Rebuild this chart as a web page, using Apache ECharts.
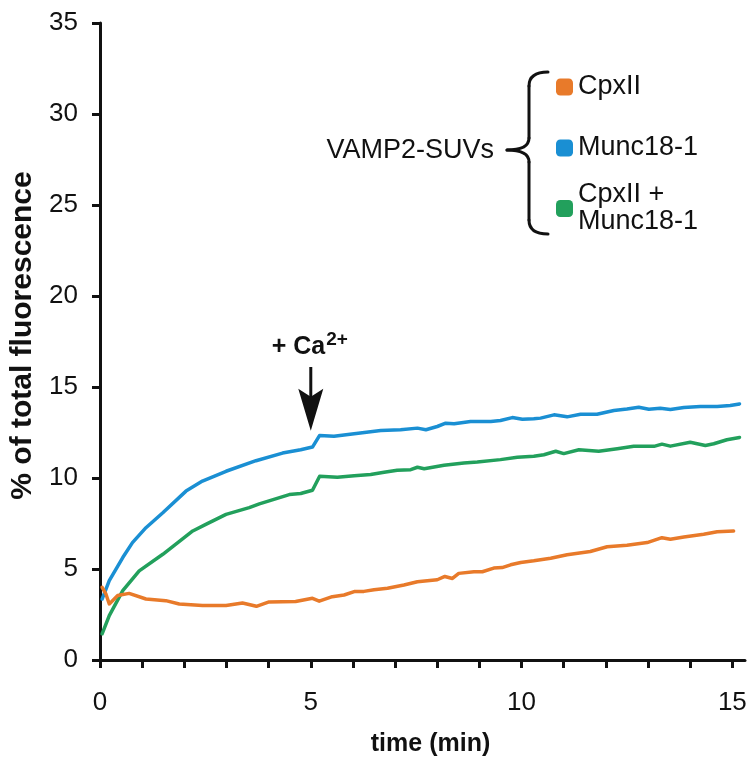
<!DOCTYPE html>
<html>
<head>
<meta charset="utf-8">
<script src="https://cdn.jsdelivr.net/npm/echarts@6/dist/echarts.min.js"></script>
<style>
  html, body { margin: 0; padding: 0; background: #fff; }
  #chart { width: 752px; height: 762px; }
</style>
</head>
<body>
<div id="chart"></div>
<script>
// Lipid-mixing kinetics: VAMP2-SUVs with CpxII, Munc18-1, or both; Ca2+ added at 5 min.
const seriesNames = ['CpxII', 'Munc18-1', 'CpxII + Munc18-1'];
const seriesColors = ['#E87A2A', '#1A8FD3', '#22A05C'];

const cpxTime = [0.05, 0.14, 0.22, 0.42, 0.69, 1.09, 1.56, 1.88, 2.43, 2.99, 3.38, 3.71, 4.01, 4.64, 5.04, 5.2, 5.51, 5.79, 6.03, 6.26, 6.5, 6.82, 7.21, 7.53, 8.0, 8.18, 8.36, 8.51, 8.87, 9.07, 9.34, 9.54, 9.74, 9.98, 10.29, 10.69, 11.08, 11.63, 12.03, 12.5, 12.98, 13.33, 13.53, 13.85, 14.32, 14.64, 15.03];
const cpxValues = [3.99, 3.63, 3.08, 3.54, 3.66, 3.35, 3.26, 3.08, 2.99, 2.99, 3.13, 2.95, 3.19, 3.21, 3.39, 3.23, 3.48, 3.57, 3.76, 3.77, 3.86, 3.94, 4.12, 4.3, 4.41, 4.59, 4.48, 4.76, 4.85, 4.85, 5.05, 5.08, 5.23, 5.36, 5.45, 5.59, 5.78, 5.96, 6.22, 6.31, 6.45, 6.72, 6.63, 6.76, 6.91, 7.05, 7.09];

const muncTime = [0.05, 0.22, 0.54, 0.77, 1.09, 1.49, 2.04, 2.43, 2.99, 3.7, 4.33, 4.76, 5.04, 5.21, 5.55, 6.03, 6.66, 7.13, 7.53, 7.73, 8.0, 8.2, 8.4, 8.79, 9.27, 9.5, 9.78, 10.02, 10.29, 10.45, 10.77, 11.08, 11.4, 11.79, 12.19, 12.5, 12.78, 13.02, 13.29, 13.53, 13.85, 14.24, 14.64, 14.95, 15.17];
const muncValues = [3.35, 4.36, 5.63, 6.45, 7.27, 8.09, 9.28, 9.83, 10.37, 10.95, 11.37, 11.55, 11.7, 12.34, 12.29, 12.43, 12.61, 12.65, 12.74, 12.65, 12.83, 13.01, 12.98, 13.1, 13.1, 13.16, 13.32, 13.23, 13.25, 13.29, 13.47, 13.36, 13.5, 13.5, 13.71, 13.79, 13.89, 13.78, 13.83, 13.76, 13.87, 13.93, 13.93, 13.98, 14.07];

const bothTime = [0.05, 0.22, 0.54, 0.93, 1.49, 2.2, 2.51, 2.99, 3.54, 3.78, 4.49, 4.76, 5.04, 5.21, 5.63, 6.03, 6.42, 6.74, 7.05, 7.37, 7.53, 7.69, 8.16, 8.63, 8.95, 9.5, 9.9, 10.29, 10.53, 10.81, 11.0, 11.36, 11.83, 12.27, 12.66, 13.14, 13.33, 13.53, 14.0, 14.36, 14.56, 14.87, 15.17];
const bothValues = [1.44, 2.44, 3.81, 4.9, 5.81, 7.09, 7.45, 8.0, 8.37, 8.58, 9.09, 9.15, 9.33, 10.1, 10.04, 10.13, 10.19, 10.32, 10.43, 10.46, 10.59, 10.51, 10.7, 10.83, 10.88, 11.01, 11.14, 11.19, 11.28, 11.47, 11.34, 11.55, 11.47, 11.61, 11.74, 11.74, 11.86, 11.75, 11.96, 11.79, 11.88, 12.1, 12.23];

const xTickValues = [0, 1, 2, 3, 4, 5, 6, 7, 8, 9, 10, 11, 12, 13, 14, 15];
const xLabelValues = [0, 5, 10, 15];

// Ca2+ addition marker (time in min, arrow tip / tail in % fluorescence)
const caTime = 5;
const caArrowTip = 12.6;
const caArrowTail = 16.1;

const FONT = "'Liberation Sans', Arial, Helvetica, sans-serif";

function pairs(t, v) { return t.map((x, i) => [x, v[i]]); }

const chart = echarts.init(document.getElementById('chart'), null, { renderer: 'canvas' });

const lineSeries = [
  { name: seriesNames[1], data: pairs(muncTime, muncValues), color: seriesColors[1] },
  { name: seriesNames[2], data: pairs(bothTime, bothValues), color: seriesColors[2] },
  { name: seriesNames[0], data: pairs(cpxTime, cpxValues), color: seriesColors[0] }
].map(s => ({
  name: s.name,
  type: 'line',
  data: s.data,
  showSymbol: false,
  symbol: 'none',
  color: s.color,
  lineStyle: { color: s.color, width: 3.5, join: 'round', cap: 'round' },
  emphasis: { disabled: true }
}));

function legendAt(name, top) {
  return {
    data: [name],
    left: 556,
    top: top,
    orient: 'vertical',
    padding: 0,
    icon: 'roundRect',
    itemWidth: 17,
    itemHeight: 17,
    itemGap: 0,
    selectedMode: false,
    textStyle: { fontFamily: FONT, fontSize: 27, color: '#111', lineHeight: 27 },
    formatter: n => n === seriesNames[2] ? 'CpxII +\nMunc18-1' : n
  };
}

chart.setOption({
  animation: false,
  backgroundColor: '#fff',
  grid: { left: 99, right: 7, top: 23, bottom: 99, containLabel: false },
  legend: [
    legendAt(seriesNames[0], 73.5),
    legendAt(seriesNames[1], 134.5),
    legendAt(seriesNames[2], 181.5)
  ],
  xAxis: {
    type: 'value',
    min: 0,
    max: 15.3,
    name: 'time (min)',
    nameLocation: 'middle',
    nameGap: 72,
    nameTextStyle: { fontFamily: FONT, fontSize: 25, fontWeight: 'bold', color: '#111', padding: [0, 0, 0, 16] },
    axisLine: { onZero: false, lineStyle: { color: '#111', width: 3 } },
    axisTick: { show: true, inside: false, length: 8, customValues: xTickValues, lineStyle: { color: '#111', width: 3 } },
    axisLabel: { customValues: xLabelValues, margin: 30, fontFamily: FONT, fontSize: 26, color: '#111' },
    splitLine: { show: false }
  },
  yAxis: {
    type: 'value',
    min: 0,
    max: 35,
    interval: 5,
    name: '% of total fluorescence',
    nameLocation: 'middle',
    nameGap: 62,
    nameTextStyle: { fontFamily: FONT, fontSize: 30, fontWeight: 'bold', color: '#111', padding: [0, 0, 0, 12] },
    axisLine: { show: true, lineStyle: { color: '#111', width: 3 } },
    axisTick: { show: true, inside: false, length: 8, lineStyle: { color: '#111', width: 3 } },
    axisLabel: { margin: 22, fontFamily: FONT, fontSize: 26, color: '#111' },
    splitLine: { show: false }
  },
  series: lineSeries
});

// Annotations: "+ Ca2+" arrow anchored to data coordinates, and the VAMP2-SUVs brace.
const tip = chart.convertToPixel({ gridIndex: 0 }, [caTime, caArrowTip]);
const tail = chart.convertToPixel({ gridIndex: 0 }, [caTime, caArrowTail]);
const ax = tip[0];
const headLen = 42, headHalf = 12.5, notch = 8;

const braceStyle = { stroke: '#111', lineWidth: 3, fill: null, lineCap: 'round' };
const bx = 529, bTop = 72, bMid = 150, bBot = 234, bEnd = 548, bPoint = 507;

chart.setOption({
  graphic: [
    {
      type: 'line',
      shape: { x1: ax, y1: tail[1], x2: ax, y2: tip[1] - headLen + notch + 2 },
      style: { stroke: '#111', lineWidth: 3 }
    },
    {
      type: 'polygon',
      shape: { points: [
        [ax, tip[1]],
        [ax - headHalf, tip[1] - headLen],
        [ax, tip[1] - headLen + notch],
        [ax + headHalf, tip[1] - headLen]
      ] },
      style: { fill: '#111' }
    },
    {
      type: 'text',
      x: ax - 1,
      y: tail[1] - 7,
      style: {
        text: '{b|+ Ca}{s|2+}',
        align: 'center',
        verticalAlign: 'bottom',
        rich: {
          b: { fontFamily: FONT, fontSize: 25, fontWeight: 'bold', fill: '#111', verticalAlign: 'bottom', lineHeight: 30 },
          s: { fontFamily: FONT, fontSize: 19, fontWeight: 'bold', fill: '#111', verticalAlign: 'top', lineHeight: 30, padding: [0, 0, 12, 1] }
        }
      }
    },
    // curly brace grouping the three samples
    { type: 'bezierCurve', shape: { x1: bEnd, y1: bTop, cpx1: bx, cpy1: bTop, x2: bx, y2: bTop + 14 }, style: braceStyle },
    { type: 'line', shape: { x1: bx, y1: bTop + 14, x2: bx, y2: bMid - 12 }, style: braceStyle },
    { type: 'bezierCurve', shape: { x1: bx, y1: bMid - 12, cpx1: bx, cpy1: bMid, x2: bPoint, y2: bMid }, style: braceStyle },
    { type: 'bezierCurve', shape: { x1: bPoint, y1: bMid, cpx1: bx, cpy1: bMid, x2: bx, y2: bMid + 12 }, style: braceStyle },
    { type: 'line', shape: { x1: bx, y1: bMid + 12, x2: bx, y2: bBot - 14 }, style: braceStyle },
    { type: 'bezierCurve', shape: { x1: bx, y1: bBot - 14, cpx1: bx, cpy1: bBot, x2: bEnd, y2: bBot }, style: braceStyle },
    {
      type: 'text',
      x: 494,
      y: 151,
      style: { text: 'VAMP2-SUVs', align: 'right', verticalAlign: 'middle', fontFamily: FONT, fontSize: 27, fill: '#111' }
    }
  ]
});
</script>
</body>
</html>
